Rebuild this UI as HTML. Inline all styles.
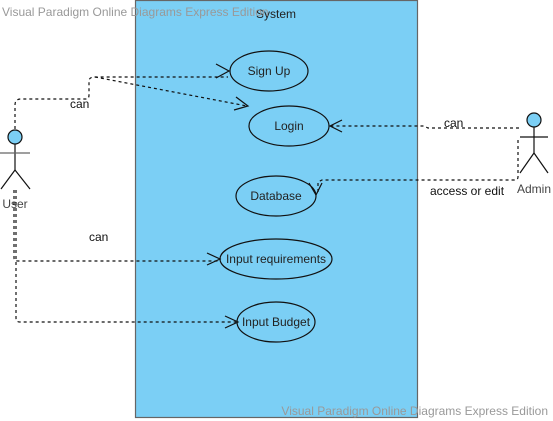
<!DOCTYPE html>
<html><head><meta charset="utf-8"><style>
html,body{margin:0;padding:0;background:#fff;width:553px;height:421px;overflow:hidden}
svg{display:block;font-family:"Liberation Sans",sans-serif}
</style></head><body>
<svg width="553" height="421" viewBox="0 0 553 421">
<rect x="135.5" y="0.5" width="282" height="417" fill="#7bcff5" stroke="#666" stroke-width="1.2"/>
<text x="276" y="18" font-size="12" fill="#222" text-anchor="middle">System</text>
<text x="2" y="16" font-size="12" fill="#999">Visual Paradigm Online Diagrams Express Edition</text>
<text x="548" y="415" font-size="12" fill="#999" text-anchor="end">Visual Paradigm Online Diagrams Express Edition</text>
<g fill="none" stroke="#111" stroke-width="1.2">
<ellipse cx="269" cy="71" rx="39" ry="20"/>
<ellipse cx="289" cy="126" rx="40" ry="20"/>
<ellipse cx="276" cy="196" rx="40" ry="20"/>
<ellipse cx="276" cy="259" rx="56" ry="20"/>
<ellipse cx="276" cy="322" rx="39" ry="20"/>
</g>
<g font-size="12" fill="#222" text-anchor="middle">
<text x="269" y="75">Sign Up</text>
<text x="289" y="130">Login</text>
<text x="276" y="200">Database</text>
<text x="276" y="263">Input requirements</text>
<text x="276" y="326">Input Budget</text>
</g>
<g stroke="#111" stroke-width="1.2" fill="none">
<circle cx="15" cy="137" r="7" fill="#7bcff5"/>
<line x1="15" y1="144" x2="15" y2="170"/><line x1="0" y1="153" x2="30" y2="153" stroke="#666"/>
<line x1="15" y1="170" x2="1" y2="189"/><line x1="15" y1="170" x2="30" y2="189"/>
<circle cx="534" cy="120" r="7" fill="#7bcff5"/>
<line x1="534" y1="127" x2="534" y2="153"/><line x1="520" y1="137" x2="548" y2="137"/>
<line x1="534" y1="153" x2="520" y2="173"/><line x1="534" y1="153" x2="548" y2="173"/>
</g>
<text x="15" y="208" font-size="12" fill="#444" text-anchor="middle">User</text>
<text x="534" y="193" font-size="12" fill="#444" text-anchor="middle">Admin</text>
<g fill="none" stroke="#111" stroke-width="1.2" stroke-dasharray="3,3">
<path d="M15 129 V105 Q15 99 21 99 H86 Q89 99 89 95 V81 Q89 77 95 77 H228"/>
<path d="M95 77 L247 106"/>
<path d="M14 190 V258 Q14 261 18 261 H218"/>
<path d="M16 190 V318 Q16 322 20 322 H236"/>
<path d="M519 128 H428 L424 126 H331"/>
<path d="M518 140 V177 Q518 180 514 180 H322 L318 182 V194"/>
</g>
<g fill="none" stroke="#111" stroke-width="1.2">
<path d="M216 64 L229 71 L216 78"/>
<path d="M236 97 L248 106 L234 110"/>
<path d="M207 253 L220 259 L207 265"/>
<path d="M225 316 L238 322 L225 328"/>
<path d="M342 120 L330 126 L342 132"/>
<path d="M309 183 L316 195 L322 183"/>
</g>
<g font-size="12" fill="#111">
<text x="70" y="108">can</text>
<text x="89" y="241">can</text>
<text x="444" y="127">can</text>
<text x="430" y="195">access or edit</text>
</g>
</svg>
</body></html>
